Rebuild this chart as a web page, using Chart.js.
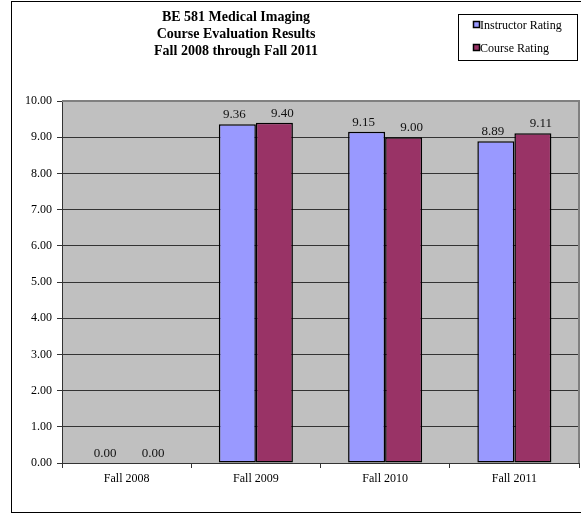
<!DOCTYPE html>
<html>
<head>
<meta charset="utf-8">
<script src="https://cdn.jsdelivr.net/npm/chart.js@4.4.0/dist/chart.umd.min.js"></script>
<style>
html,body{margin:0;padding:0;background:#fff;}
#wrap{position:relative;width:581px;height:514px;}
</style>
</head>
<body>
<div id="wrap"><canvas id="c" width="581" height="514"></canvas></div>
<script>
const titleLines = ["BE 581 Medical Imaging", "Course Evaluation Results", "Fall 2008 through Fall 2011"];
const categories = ["Fall 2008", "Fall 2009", "Fall 2010", "Fall 2011"];
const instructorRating = [0.00, 9.36, 9.15, 8.89];
const courseRating = [0.00, 9.40, 9.00, 9.11];
const seriesNames = ["Instructor Rating", "Course Rating"];
const seriesColors = ["#9999FF", "#993366"];
const yTicks = [0,1,2,3,4,5,6,7,8,9,10];

const FONT = "'Liberation Serif', 'Times New Roman', serif";

const decorPlugin = {
  id: 'decor',
  beforeDraw(chart) {
    const ctx = chart.ctx, a = chart.chartArea;
    ctx.save();
    ctx.fillStyle = '#fff';
    ctx.fillRect(0, 0, chart.width, chart.height);
    ctx.strokeStyle = '#000';
    ctx.lineWidth = 1;
    ctx.strokeRect(11.5, 1.5, 600, 511);
    ctx.fillStyle = '#C0C0C0';
    ctx.fillRect(a.left, a.top, a.right - a.left, a.bottom - a.top);
    ctx.restore();
  },
  afterDraw(chart) {
    const ctx = chart.ctx, a = chart.chartArea;
    ctx.save();
    ctx.strokeStyle = '#808080';
    ctx.lineWidth = 2;
    ctx.beginPath();
    ctx.moveTo(a.left, a.top);
    ctx.lineTo(a.right, a.top);
    ctx.lineTo(a.right, a.bottom);
    ctx.stroke();
    ctx.fillStyle = '#000';
    ctx.font = 'bold 14px ' + FONT;
    ctx.textAlign = 'center';
    ctx.textBaseline = 'middle';
    titleLines.forEach((t, i) => ctx.fillText(t, 236, 17 + i * 17));
    ctx.lineWidth = 1;
    ctx.strokeStyle = '#000';
    ctx.fillStyle = '#fff';
    ctx.fillRect(458.5, 14.5, 119, 46);
    ctx.strokeRect(458.5, 14.5, 119, 46);
    ctx.font = '12px ' + FONT;
    ctx.textAlign = 'left';
    seriesNames.forEach((n, i) => {
      const y = 25 + i * 25 - (i ? 2 : 0);
      ctx.fillStyle = seriesColors[i];
      ctx.fillRect(473.5, y - 3.5, 6, 6);
      ctx.strokeStyle = '#000';
      ctx.lineWidth = 1.5;
      ctx.strokeRect(473.5, y - 3.5, 6, 6);
      ctx.fillStyle = '#000';
      ctx.fillText(n, 480, y + 1);
    });
    ctx.restore();
  },
  afterDatasetsDraw(chart) {
    const ctx = chart.ctx;
    ctx.save();
    ctx.font = '13px ' + FONT;
    ctx.fillStyle = '#111';
    ctx.textAlign = 'center';
    ctx.textBaseline = 'bottom';
    chart.data.datasets.forEach((ds, di) => {
      const meta = chart.getDatasetMeta(di);
      meta.data.forEach((bar, i) => {
        const dx = di === 0 ? -3 : 8;
        ctx.fillText(ds.data[i].toFixed(2), bar.x + dx, bar.y - 3);
      });
    });
    ctx.restore();
  }
};

new Chart(document.getElementById('c'), {
  type: 'bar',
  data: {
    labels: categories,
    datasets: [
      { label: seriesNames[0], data: instructorRating, backgroundColor: seriesColors[0], borderColor: '#000', borderWidth: 1.5, borderSkipped: false },
      { label: seriesNames[1], data: courseRating, backgroundColor: seriesColors[1], borderColor: '#000', borderWidth: 1.5, borderSkipped: false }
    ]
  },
  options: {
    responsive: false,
    animation: false,
    devicePixelRatio: 1,
    layout: { padding: { left: 0, right: 2, top: 101, bottom: 0 } },
    plugins: { legend: { display: false }, title: { display: false }, tooltip: { enabled: false } },
    datasets: { bar: { categoryPercentage: 0.573, barPercentage: 1.0 } },
    scales: {
      x: {
        offset: true,
        grid: { display: true, drawOnChartArea: false, drawTicks: true, tickLength: 5, offset: true, color: '#333', lineWidth: 1 },
        border: { display: true, color: '#333', width: 1 },
        ticks: { color: '#000', font: { family: FONT, size: 12 }, padding: 4, maxRotation: 0 },
        afterFit(s) { s.height = 51; }
      },
      y: {
        min: 0, max: 10,
        afterBuildTicks(s) { s.ticks = yTicks.map(v => ({ value: v })); },
        grid: { color: '#333', lineWidth: 1, tickLength: 5, drawTicks: true },
        border: { display: true, color: '#333', width: 1 },
        ticks: { color: '#000', font: { family: FONT, size: 12 }, padding: 5, callback: v => Number(v).toFixed(2) },
        afterFit(s) { s.width = 62; }
      }
    }
  },
  plugins: [decorPlugin]
});
</script>
</body>
</html>
